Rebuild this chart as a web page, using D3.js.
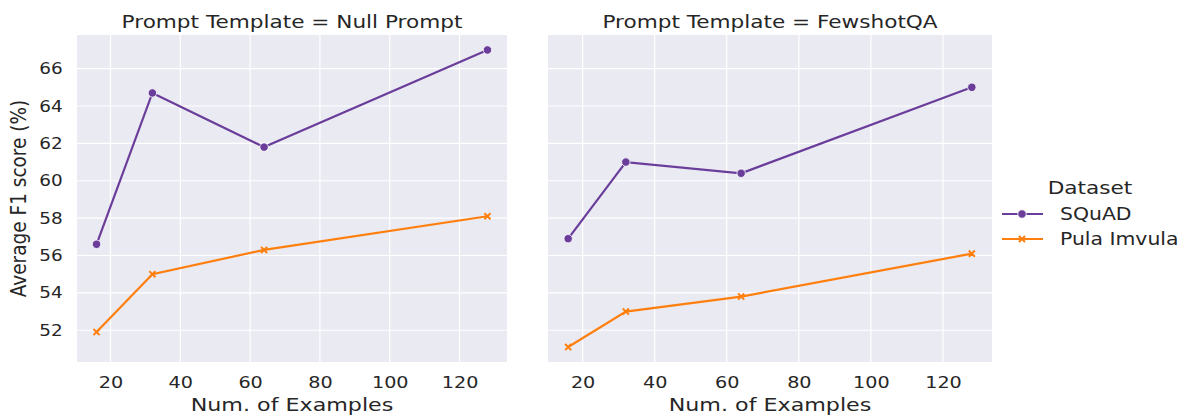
<!DOCTYPE html>
<html>
<head>
    <title>F1 by number of examples</title>
    <script type="text/javascript" src="https://cdn.jsdelivr.net/npm/d3@7"></script>
    <style>
        body { margin: 0; background: #fff; }
        text { font-family: "DejaVu Sans", sans-serif; fill: #262626; }
    </style>
</head>
<body>
    <div id="chart"></div>
    <script>
        var numExamples = [16, 32, 64, 128];
        var templates = ["Null Prompt", "FewshotQA"];
        var datasets = ["SQuAD", "Pula Imvula"];
        var squadNull = [56.6, 64.7, 61.8, 67.0];
        var pulaNull = [51.9, 55.0, 56.3, 58.1];
        var squadFewshot = [56.9, 61.0, 60.4, 65.0];
        var pulaFewshot = [51.1, 53.0, 53.8, 56.1];
        var xTicks = [20, 40, 60, 80, 100, 120];
        var yTicks = [52, 54, 56, 58, 60, 62, 64, 66];

        var colors = {"SQuAD": "#6a3d9a", "Pula Imvula": "#ff7f0e"};
        var series = {
            "Null Prompt": {"SQuAD": squadNull, "Pula Imvula": pulaNull},
            "FewshotQA": {"SQuAD": squadFewshot, "Pula Imvula": pulaFewshot}
        };

        var W = 1186, H = 416;
        var plotTop = 35, plotBottom = 362;
        var panels = [{left: 77, right: 507}, {left: 548, right: 992}];
        var sx = 1.2; // the original picture is a bit wider than tall, text looks stretched

        var svg = d3.select("#chart").append("svg")
            .attr("width", W)
            .attr("height", H);

        // horizontal text, stretched sideways like the reference
        function wideText(parent, tx, ty, size, anchor, str) {
            return parent.append("text")
                .attr("transform", "translate(" + tx + "," + ty + ") scale(" + sx + ",1)")
                .style("text-anchor", anchor)
                .style("font-size", size + "px")
                .text(str);
        }

        var y = d3.scaleLinear().domain([50.3, 67.8]).range([plotBottom, plotTop]);

        templates.forEach(function(t, i) {
            var p = panels[i];
            var x = d3.scaleLinear().domain([10.4, 133.6]).range([p.left, p.right]);
            var g = svg.append("g");

            g.append("rect")
                .attr("x", p.left).attr("y", plotTop)
                .attr("width", p.right - p.left).attr("height", plotBottom - plotTop)
                .attr("fill", "#eaeaf2");

            // grid
            g.selectAll(".vgrid").data(xTicks).enter().append("line")
                .attr("x1", function(d) { return x(d); }).attr("x2", function(d) { return x(d); })
                .attr("y1", plotTop).attr("y2", plotBottom)
                .attr("stroke", "#fff").attr("stroke-width", 1.2);
            g.selectAll(".hgrid").data(yTicks).enter().append("line")
                .attr("x1", p.left).attr("x2", p.right)
                .attr("y1", function(d) { return y(d); }).attr("y2", function(d) { return y(d); })
                .attr("stroke", "#fff").attr("stroke-width", 1.2);

            // x axis
            var xAxis = g.append("g")
                .attr("transform", "translate(0," + plotBottom + ")")
                .call(d3.axisBottom(x).tickValues(xTicks).tickSize(0).tickPadding(15));
            xAxis.select(".domain").remove();
            xAxis.selectAll("text")
                .attr("transform", "scale(" + sx + ",1)")
                .style("font-size", "16px").attr("fill", "#262626")
                .style("font-family", "DejaVu Sans, sans-serif");

            if (i === 0) {
                var yAxis = g.append("g")
                    .attr("transform", "translate(" + p.left + ",0)")
                    .call(d3.axisLeft(y).tickValues(yTicks).tickSize(0).tickPadding(12.5));
                yAxis.select(".domain").remove();
                yAxis.selectAll("text")
                    .attr("transform", "scale(1.15,1)")
                    .style("font-size", "16px").attr("fill", "#262626")
                    .style("font-family", "DejaVu Sans, sans-serif");

                g.append("text")
                    .attr("transform", "translate(26," + ((plotTop + plotBottom) / 2) + ") rotate(-90) scale(1,1.15)")
                    .style("text-anchor", "middle")
                    .style("font-size", "18.5px")
                    .text("Average F1 score (%)");
            }

            wideText(g, (p.left + p.right) / 2, 410.5, 18.5, "middle", "Num. of Examples");
            wideText(g, (p.left + p.right) / 2, 28, 18, "middle", "Prompt Template = " + t);

            datasets.forEach(function(ds) {
                var vals = series[t][ds];
                var pts = numExamples.map(function(n, k) { return [n, vals[k]]; });
                var line = d3.line()
                    .x(function(d) { return x(d[0]); })
                    .y(function(d) { return y(d[1]); });
                g.append("path")
                    .datum(pts)
                    .attr("fill", "none")
                    .attr("stroke", colors[ds])
                    .attr("stroke-width", 2.2)
                    .attr("d", line);
                if (ds === "SQuAD") {
                    g.selectAll(".dot" + i).data(pts).enter().append("circle")
                        .attr("cx", function(d) { return x(d[0]); })
                        .attr("cy", function(d) { return y(d[1]); })
                        .attr("r", 4.2)
                        .attr("fill", colors[ds])
                        .attr("stroke", "#fff").attr("stroke-width", 0.8);
                } else {
                    g.selectAll(".xm" + i).data(pts).enter().append("path")
                        .attr("transform", function(d) { return "translate(" + x(d[0]) + "," + y(d[1]) + ")"; })
                        .attr("d", d3.symbol().type(d3.symbolX).size(26))
                        .attr("fill", "none")
                        .attr("stroke", colors[ds]).attr("stroke-width", 2);
                }
            });
        });

        // legend
        var lg = svg.append("g");
        wideText(lg, 1090, 194, 18, "middle", "Dataset");
        datasets.forEach(function(ds, k) {
            var ly = 214 + k * 25;
            lg.append("line")
                .attr("x1", 1002).attr("x2", 1043)
                .attr("y1", ly).attr("y2", ly)
                .attr("stroke", colors[ds]).attr("stroke-width", 2.2);
            if (ds === "SQuAD") {
                lg.append("circle").attr("cx", 1022).attr("cy", ly).attr("r", 4.2)
                    .attr("fill", colors[ds]).attr("stroke", "#fff").attr("stroke-width", 0.8);
            } else {
                lg.append("path")
                    .attr("transform", "translate(1022," + ly + ")")
                    .attr("d", d3.symbol().type(d3.symbolX).size(26))
                    .attr("fill", "none").attr("stroke", colors[ds]).attr("stroke-width", 2);
            }
            wideText(lg, 1060, ly + 6, 17, "start", ds);
        });
    </script>
</body>
</html>
